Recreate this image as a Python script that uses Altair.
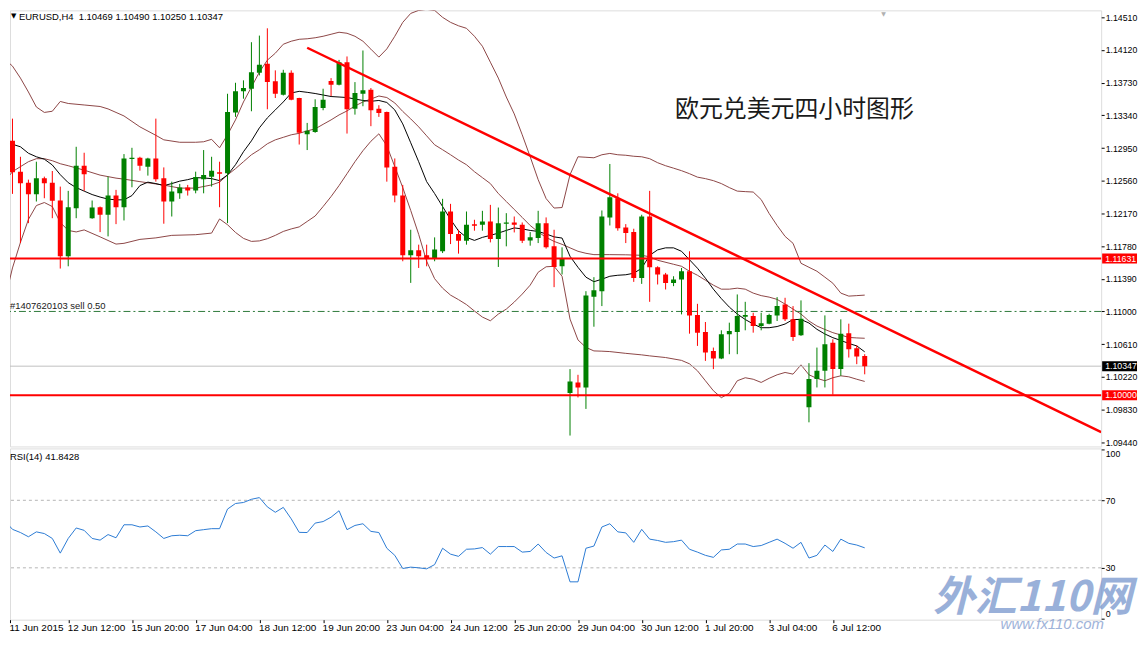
import altair as alt
import pandas as pd

# ------------------------------------------------------------------ data
opens = [
    1.12846, 1.13036, 1.12668, 1.12537, 1.12398, 1.12589, 1.12537, 1.12324, 1.11658, 1.12232,
    1.12739, 1.12113, 1.12244, 1.12154, 1.12383, 1.12244, 1.12819, 1.12834, 1.12728, 1.12826,
    1.12589, 1.12312, 1.12410, 1.12478, 1.12442, 1.12577, 1.12609, 1.12660, 1.12648, 1.13373,
    1.13627, 1.13658, 1.13848, 1.13955, 1.13746, 1.13587, 1.13848, 1.13547, 1.13116, 1.13143,
    1.13429, 1.13749, 1.13705, 1.13975, 1.13420, 1.13598, 1.13646, 1.13420, 1.13381, 1.12728,
    1.12383, 1.11670, 1.11729, 1.11670, 1.11631, 1.11718, 1.12193, 1.11923, 1.11845, 1.12042,
    1.12035, 1.12074, 1.11864, 1.12047, 1.12062, 1.12035, 1.11848, 1.11876, 1.12054, 1.11777,
    1.11539, 1.10027, 1.10153, 1.10093, 1.11175, 1.11242, 1.12122, 1.12351, 1.12003, 1.11947,
    1.11400, 1.12133, 1.11527, 1.11441, 1.11341, 1.11381, 1.11480, 1.10957, 1.10755, 1.10529,
    1.10438, 1.10728, 1.10755, 1.10937, 1.10945, 1.10826, 1.10854, 1.10953, 1.11084, 1.10906,
    1.10716, 1.09856, 1.10193, 1.10292, 1.10628, 1.10312, 1.10740, 1.10561, 1.10469]
highs = [
    1.13167, 1.13301, 1.12846, 1.12573, 1.12787, 1.12609, 1.12676, 1.12490, 1.12439, 1.12965,
    1.12894, 1.12324, 1.12252, 1.12609, 1.12451, 1.12878, 1.12953, 1.12846, 1.12834, 1.13301,
    1.12719, 1.12549, 1.12522, 1.12510, 1.12668, 1.12926, 1.12846, 1.12787, 1.13598, 1.13729,
    1.13758, 1.14213, 1.14292, 1.14379, 1.13877, 1.13884, 1.13877, 1.13550, 1.13250, 1.13532,
    1.13658, 1.13785, 1.14002, 1.14043, 1.13737, 1.14114, 1.13666, 1.13461, 1.13385, 1.12826,
    1.12510, 1.11975, 1.11797, 1.11797, 1.11884, 1.12344, 1.12284, 1.11975, 1.12193, 1.12094,
    1.12201, 1.12272, 1.12240, 1.12173, 1.12133, 1.12062, 1.11947, 1.12201, 1.12122, 1.11975,
    1.11765, 1.10312, 1.10244, 1.11242, 1.11409, 1.12205, 1.12760, 1.12410, 1.12042, 1.11987,
    1.12154, 1.12439, 1.11539, 1.11460, 1.11420, 1.11519, 1.11718, 1.11091, 1.10874, 1.10569,
    1.10775, 1.10866, 1.11203, 1.11115, 1.10984, 1.10984, 1.10973, 1.11171, 1.11163, 1.11064,
    1.11132, 1.10383, 1.10569, 1.10953, 1.10668, 1.10906, 1.10854, 1.10597, 1.10490]
lows = [
    1.12811, 1.12403, 1.11816, 1.12054, 1.12312, 1.12351, 1.12113, 1.11512, 1.11539, 1.12113,
    1.12439, 1.12106, 1.11947, 1.11896, 1.12042, 1.12086, 1.12482, 1.12680, 1.12621, 1.12549,
    1.12047, 1.12133, 1.12344, 1.12383, 1.12410, 1.12410, 1.12490, 1.12244, 1.12054, 1.13322,
    1.13539, 1.13389, 1.13817, 1.13413, 1.13547, 1.13577, 1.13520, 1.12992, 1.12926, 1.13132,
    1.13401, 1.13571, 1.13698, 1.13123, 1.13349, 1.13449, 1.13211, 1.13322, 1.12549, 1.12303,
    1.11599, 1.11341, 1.11519, 1.11539, 1.11599, 1.11697, 1.11804, 1.11690, 1.11797, 1.11964,
    1.11964, 1.11824, 1.11531, 1.11777, 1.11943, 1.11816, 1.11785, 1.11816, 1.11750, 1.11290,
    1.11441, 1.09519, 1.09974, 1.09837, 1.10818, 1.11064, 1.12026, 1.11964, 1.11816, 1.11353,
    1.11329, 1.11115, 1.11322, 1.11262, 1.11302, 1.10965, 1.10735, 1.10589, 1.10410, 1.10312,
    1.10431, 1.10490, 1.10490, 1.10775, 1.10747, 1.10775, 1.10847, 1.10886, 1.10886, 1.10648,
    1.10708, 1.09677, 1.10093, 1.10093, 1.10006, 1.10232, 1.10450, 1.10371, 1.10250]
closes = [
    1.13143, 1.12660, 1.12529, 1.12398, 1.12589, 1.12529, 1.12320, 1.11658, 1.12244, 1.12739,
    1.12636, 1.12240, 1.12154, 1.12383, 1.12244, 1.12826, 1.12834, 1.12739, 1.12826, 1.12577,
    1.12312, 1.12430, 1.12478, 1.12442, 1.12605, 1.12629, 1.12680, 1.12644, 1.13381, 1.13627,
    1.13666, 1.13856, 1.13943, 1.13737, 1.13598, 1.13848, 1.13527, 1.13132, 1.13155, 1.13440,
    1.13527, 1.13705, 1.13975, 1.13413, 1.13607, 1.13639, 1.13401, 1.13369, 1.12719, 1.12383,
    1.11670, 1.11729, 1.11658, 1.11638, 1.11738, 1.12193, 1.11923, 1.11845, 1.12035, 1.12023,
    1.12074, 1.11864, 1.12054, 1.12062, 1.12035, 1.11845, 1.11887, 1.12054, 1.11765, 1.11531,
    1.11631, 1.10165, 1.10093, 1.11191, 1.11254, 1.12133, 1.12363, 1.11994, 1.11935, 1.11400,
    1.12133, 1.11527, 1.11441, 1.11341, 1.11381, 1.11480, 1.10953, 1.10747, 1.10509, 1.10438,
    1.10728, 1.10767, 1.10945, 1.10957, 1.10826, 1.10858, 1.10957, 1.11064, 1.10906, 1.10696,
    1.10913, 1.10193, 1.10292, 1.10609, 1.10312, 1.10735, 1.10550, 1.10462, 1.10347]

ma_values = [
    1.13004, 1.12995, 1.12965, 1.12888, 1.12846, 1.12817, 1.12748, 1.12632, 1.12537, 1.12478,
    1.12436, 1.12395, 1.12365, 1.12341, 1.12332, 1.12332, 1.12383, 1.12502, 1.12543, 1.12526,
    1.12502, 1.12526, 1.12555, 1.12573, 1.12597, 1.12593, 1.12585, 1.12561, 1.12629, 1.12751,
    1.12906, 1.13036, 1.13191, 1.13310, 1.13405, 1.13500, 1.13607, 1.13627, 1.13615, 1.13601,
    1.13583, 1.13565, 1.13559, 1.13553, 1.13535, 1.13518, 1.13508, 1.13518, 1.13494, 1.13405,
    1.13238, 1.13013, 1.12787, 1.12549, 1.12407, 1.12252, 1.12098, 1.11961, 1.11884, 1.11848,
    1.11884, 1.11908, 1.11935, 1.11967, 1.11997, 1.11985, 1.11967, 1.11955, 1.11925, 1.11890,
    1.11876, 1.11658, 1.11527, 1.11409, 1.11355, 1.11385, 1.11420, 1.11432, 1.11438, 1.11456,
    1.11516, 1.11670, 1.11735, 1.11759, 1.11759, 1.11718, 1.11617, 1.11516, 1.11397, 1.11266,
    1.11153, 1.11052, 1.10969, 1.10904, 1.10850, 1.10806, 1.10806, 1.10820, 1.10850, 1.10904,
    1.10904, 1.10862, 1.10787, 1.10731, 1.10687, 1.10654, 1.10618, 1.10589, 1.10518]

ub_idx = [0, 1, 2, 3, 4, 5, 6, 7, 8, 10, 12, 13, 14, 15, 17, 19, 20, 22, 24, 25, 26, 27, 28, 29,
          30, 31, 32, 33, 34, 35, 36, 37, 38, 39, 40, 41, 42, 43, 44, 45, 46, 47, 48, 49, 50, 51,
          52, 53, 54, 55, 56, 57, 58, 59, 60, 61, 62, 63, 64, 65, 66, 67, 68, 69, 70, 71, 72, 73,
          74, 75, 76, 77, 78, 79, 80, 81, 82, 83, 84, 85, 86, 87, 88, 89, 90, 91, 92, 93, 94, 95,
          96, 97, 98, 99, 100, 101, 102, 103, 104, 105, 106, 107, 108]
ub_val = [1.14014, 1.13928, 1.13785, 1.13619, 1.13440, 1.13375, 1.13389, 1.13506, 1.13482, 1.13464,
          1.13446, 1.13417, 1.13375, 1.13333, 1.13203, 1.13102, 1.13048, 1.13019, 1.13019, 1.13025,
          1.13054, 1.12953, 1.13108, 1.13286, 1.13500, 1.13678, 1.13856, 1.13999, 1.14082, 1.14189,
          1.14225, 1.14248, 1.14254, 1.14266, 1.14284, 1.14308, 1.14332, 1.14320, 1.14284, 1.14225,
          1.14130, 1.14035, 1.14133, 1.14284, 1.14450, 1.14557, 1.14593, 1.14605, 1.14593, 1.14510,
          1.14450, 1.14409, 1.14379, 1.14284, 1.14165, 1.13975, 1.13785, 1.13559, 1.13357, 1.13108,
          1.12846, 1.12573, 1.12347, 1.12234, 1.12240, 1.12632, 1.12846, 1.12840, 1.12834, 1.12870,
          1.12886, 1.12870, 1.12864, 1.12852, 1.12846, 1.12823, 1.12775, 1.12739, 1.12710, 1.12680,
          1.12644, 1.12603, 1.12585, 1.12561, 1.12526, 1.12478, 1.12436, 1.12430, 1.12425, 1.12335,
          1.12169, 1.12026, 1.11896, 1.11813, 1.11575, 1.11527, 1.11480, 1.11409, 1.11337, 1.11219,
          1.11183, 1.11189, 1.11195]

mb_idx = [0, 1, 2, 3, 4, 5, 6, 7, 8, 10, 12, 14, 15, 17, 20, 22, 24, 26, 27, 28, 29, 30, 31, 32,
          33, 34, 35, 36, 37, 38, 39, 40, 41, 42, 43, 44, 45, 46, 47, 48, 49, 50, 51, 52, 53, 54,
          55, 56, 57, 58, 59, 60, 61, 62, 63, 64, 65, 66, 67, 68, 69, 70, 71, 72, 73, 74, 76, 78,
          80, 81, 82, 84, 85, 86, 87, 88, 89, 90, 91, 92, 93, 94, 95, 96, 97, 98, 99, 100, 101,
          102, 103, 104, 105, 106, 107, 108]
mb_val = [1.12549, 1.12668, 1.12728, 1.12787, 1.12823, 1.12823, 1.12799, 1.12763, 1.12739, 1.12686,
          1.12627, 1.12591, 1.12579, 1.12549, 1.12508, 1.12472, 1.12472, 1.12510, 1.12543, 1.12629,
          1.12704, 1.12787, 1.12870, 1.12930, 1.13001, 1.13048, 1.13078, 1.13108, 1.13126, 1.13155,
          1.13179, 1.13233, 1.13286, 1.13345, 1.13393, 1.13452, 1.13500, 1.13535, 1.13571, 1.13553,
          1.13488, 1.13387, 1.13298, 1.13203, 1.13096, 1.12989, 1.12930, 1.12870, 1.12807, 1.12751,
          1.12668, 1.12597, 1.12526, 1.12407, 1.12312, 1.12217, 1.12122, 1.12026, 1.11949, 1.11884,
          1.11836, 1.11801, 1.11759, 1.11718, 1.11694, 1.11678, 1.11678, 1.11676, 1.11670, 1.11652,
          1.11611, 1.11563, 1.11539, 1.11480, 1.11432, 1.11373, 1.11314, 1.11266, 1.11266, 1.11278,
          1.11266, 1.11219, 1.11189, 1.11171, 1.11144, 1.11088, 1.11028, 1.10969, 1.10886, 1.10826,
          1.10785, 1.10747, 1.10719, 1.10690, 1.10684, 1.10680]

lb_idx = [0, 1, 2, 3, 4, 5, 6, 7, 8, 9, 10, 12, 14, 15, 17, 19, 21, 24, 26, 27, 28, 29, 30, 31,
          32, 33, 34, 35, 36, 37, 38, 39, 40, 41, 42, 43, 44, 45, 46, 47, 48, 49, 50, 51, 52, 53,
          54, 55, 56, 57, 58, 59, 60, 61, 62, 63, 64, 65, 66, 67, 68, 69, 70, 71, 72, 73, 74, 75,
          76, 78, 80, 81, 83, 85, 86, 87, 88, 89, 90, 91, 92, 93, 94, 95, 96, 97, 98, 99, 100,
          101, 102, 103, 104, 105, 106, 107, 108]
lb_val = [1.11123, 1.11519, 1.11824, 1.12098, 1.12264, 1.12300, 1.12252, 1.12062, 1.11967, 1.11949,
          1.11973, 1.11890, 1.11804, 1.11813, 1.11860, 1.11878, 1.11908, 1.11916, 1.11935, 1.12104,
          1.12035, 1.11943, 1.11872, 1.11836, 1.11842, 1.11868, 1.11908, 1.11955, 1.11985, 1.12009,
          1.12074, 1.12139, 1.12252, 1.12371, 1.12502, 1.12644, 1.12787, 1.12918, 1.13031, 1.13120,
          1.12977, 1.12728, 1.12478, 1.12205, 1.11920, 1.11599, 1.11391, 1.11278, 1.11195, 1.11141,
          1.11082, 1.11005, 1.10933, 1.10889, 1.10969, 1.11028, 1.11112, 1.11207, 1.11314, 1.11468,
          1.11533, 1.11539, 1.11420, 1.10909, 1.10660, 1.10571, 1.10529, 1.10526, 1.10521, 1.10500,
          1.10482, 1.10470, 1.10450, 1.10416, 1.10375, 1.10292, 1.10173, 1.10054, 1.09971, 1.10024,
          1.10173, 1.10209, 1.10191, 1.10153, 1.10202, 1.10244, 1.10272, 1.10252, 1.10363, 1.10244,
          1.10202, 1.10173, 1.10209, 1.10232, 1.10220, 1.10191, 1.10165]

rsi_values = [
    58.0, 52.8, 50.9, 48.4, 51.3, 50.3, 47.4, 38.7, 47.4, 53.6,
    52.2, 47.4, 46.4, 49.7, 47.8, 55.5, 55.5, 54.2, 54.8, 51.3,
    47.4, 49.0, 49.3, 49.0, 52.0, 52.6, 53.2, 53.2, 64.8, 68.1,
    68.7, 70.6, 71.6, 66.1, 62.9, 65.8, 59.0, 51.0, 50.9, 56.5,
    57.4, 60.0, 63.8, 52.6, 55.1, 56.1, 51.6, 50.9, 41.6, 37.4,
    29.6, 30.4, 30.0, 29.4, 31.9, 41.6, 38.1, 36.8, 41.0, 41.2,
    42.0, 38.1, 42.6, 42.6, 42.6, 39.3, 39.7, 44.1, 39.1, 35.8,
    37.1, 21.7, 21.7, 41.6, 42.9, 54.2, 56.1, 51.3, 50.7, 45.1,
    52.8, 47.0, 46.2, 45.1, 45.5, 46.4, 41.0, 39.3, 37.4, 36.2,
    40.6, 41.0, 44.1, 44.1, 42.6, 43.2, 45.1, 47.0, 44.5, 41.6,
    45.1, 35.8, 37.4, 43.5, 39.7, 47.0, 44.5, 43.5, 41.8428]

tick_bars = [0, 8, 16, 24, 32, 40, 48, 56, 64, 72, 80, 88, 96, 104]
tick_labels = ["11 Jun 2015", "12 Jun 12:00", "15 Jun 20:00", "17 Jun 04:00", "18 Jun 12:00",
               "19 Jun 20:00", "23 Jun 04:00", "24 Jun 12:00", "25 Jun 20:00", "29 Jun 04:00",
               "30 Jun 12:00", "1 Jul 20:00", "3 Jul 04:00", "6 Jul 12:00"]
price_ticks = [1.14510, 1.14120, 1.13730, 1.13340, 1.12950, 1.12560, 1.12170, 1.11780,
               1.11390, 1.11000, 1.10610, 1.10220, 1.09830, 1.09440]
rsi_ticks = [100, 70, 30, 0]
rsi_levels = [70, 30]

level_prices = [1.11631, 1.10000]
bid_price = 1.10347
order_price = 1.11000
trend_bars = [38, 137.6875]
trend_prices = [1.14147, 1.09561]

box_prices = [1.11631, 1.10347, 1.10000]
box_kinds = ["level", "bid", "level"]

title_text = "EURUSD,H4\u00a0 1.10469 1.10490 1.10250 1.10347"
rsi_text = "RSI(14) 41.8428"
order_text = "#1407620103 sell 0.50"
cn_text = "欧元兑美元四小时图形"
wm_text = "外汇110网"
wm_url = "www.fx110.com"

# ------------------------------------------------------------------ style
FONT = "Liberation Sans"
GREEN = "#008000"
RED = "#ff0000"
BAND = "#8c4646"
W = 1096
H_PRICE = 438
H_RSI = 172
AXIS_FS = 8.8
X_LO, X_HI = 0.6875, 137.6875

x_scale = alt.Scale(domain=[X_LO, X_HI], nice=False, zero=False)
p_scale = alt.Scale(domain=[1.09389, 1.14593], nice=False, zero=False)
r_scale = alt.Scale(domain=[-0.72, 100.72], nice=False, zero=False)
dir_scale = alt.Scale(domain=["up", "down"], range=[GREEN, RED])

candles = pd.DataFrame({"i": list(range(len(opens))), "o": opens, "h": highs,
                        "l": lows, "c": closes})
candles["dir"] = ["up" if c >= o else "down" for o, c in zip(opens, closes)]

price_axis = alt.Axis(orient="right", values=price_ticks, format=".5f", tickSize=3,
                      labelPadding=1, domain=False, grid=False, title=None,
                      labelOverlap=False, labelBaseline="middle", labelFlush=False,
                      labelFont=FONT, labelFontSize=AXIS_FS, labelColor="black",
                      tickColor="black")


def X(field="i"):
    return alt.X(f"{field}:Q", scale=x_scale, axis=None)


def PY(field):
    return alt.Y(f"{field}:Q", scale=p_scale, axis=price_axis)


def txt(text, x, y, **kw):
    return alt.Chart(pd.DataFrame({"t": [text]})).mark_text(**kw).encode(
        x=alt.value(x), y=alt.value(y), text="t:N")


wicks = alt.Chart(candles).mark_rule(strokeWidth=1, clip=True).encode(
    x=X(), y=PY("l"), y2="h:Q",
    color=alt.Color("dir:N", scale=dir_scale, legend=None))
bodies = alt.Chart(candles).mark_rule(strokeWidth=5, clip=True).encode(
    x=X(), y=PY("o"), y2="c:Q",
    color=alt.Color("dir:N", scale=dir_scale, legend=None))


def line_layer(idx, vals, color):
    return alt.Chart(pd.DataFrame({"i": idx, "v": vals})).mark_line(
        color=color, strokeWidth=1, clip=True).encode(x=X(), y=PY("v"))


upper = line_layer(ub_idx, ub_val, BAND)
middle = line_layer(mb_idx, mb_val, BAND)
lower = line_layer(lb_idx, lb_val, BAND)
ma = line_layer(list(range(len(ma_values))), ma_values, "#000000")

bid_line = alt.Chart(pd.DataFrame({"p": [bid_price]})).mark_rule(
    color="#c0c0c0", strokeWidth=1).encode(y=PY("p"))
order_line = alt.Chart(pd.DataFrame({"p": [order_price]})).mark_rule(
    color="#2d7a3a", strokeWidth=1, strokeDash=[7, 3, 2, 3]).encode(y=PY("p"))
red_lines = alt.Chart(pd.DataFrame({"p": level_prices})).mark_rule(
    color=RED, strokeWidth=2).encode(y=PY("p"))
trend = alt.Chart(pd.DataFrame({"i": trend_bars, "p": trend_prices})).mark_line(
    color=RED, strokeWidth=2.5, clip=True).encode(x=X(), y=PY("p"))

boxes_df = pd.DataFrame({"p": box_prices, "kind": box_kinds,
                         "t": [f"{p:.5f}" for p in box_prices]})
# price label boxes at the right edge (thick horizontal rule with square caps)
boxes = alt.Chart(boxes_df).mark_rule(strokeWidth=10, strokeCap="square").encode(
    x=alt.value(W + 6), x2=alt.value(W + 31), y=PY("p"),
    color=alt.condition("datum.kind == 'bid'", alt.value("#000000"), alt.value(RED)))
box_text = alt.Chart(boxes_df).mark_text(
    align="left", baseline="middle", color="white", font=FONT, fontSize=AXIS_FS).encode(
    x=alt.value(W + 4), y=PY("p"), text="t:N")

price_panel = alt.layer(
    upper, middle, lower, ma, bid_line, order_line,
    wicks, bodies, red_lines, trend, boxes, box_text,
    txt("▼", 1, 2, font="DejaVu Sans", fontSize=7, align="left", baseline="top", color="black"),
    txt(title_text, 9, 1.5, font=FONT, fontSize=9.5, align="left", baseline="top", color="black"),
    txt("▼", 875, 1, font="DejaVu Sans", fontSize=6, align="left", baseline="top", color="#b0b0b0"),
    txt(order_text, 0, 297, font=FONT, fontSize=9.5, align="left", baseline="middle", color="#202020"),
    txt(cn_text, 668, 100, font="Noto Sans CJK SC", fontSize=24, align="left",
        baseline="middle", color="#1a1a1a"),
).properties(width=W, height=H_PRICE)

# ------------------------------------------------------------------ RSI
label_expr = "[" + ",".join(f"'{s}'" for s in tick_labels) + "][round(datum.value / 8)]"
axis_ticks = [max(b, X_LO) for b in tick_bars]
x_axis = alt.Axis(orient="bottom", values=axis_ticks, labelExpr=label_expr, tickSize=3,
                  labelPadding=0, labelAlign="left", labelBaseline="top", labelOffset=-1,
                  domain=False, grid=False, title=None, labelOverlap=False, labelFlush=False,
                  labelFont=FONT, labelFontSize=10, labelColor="black", tickColor="black")
rsi_axis = alt.Axis(orient="right", values=rsi_ticks, tickSize=3, labelPadding=1,
                    labelFlush=3, domain=False, grid=False, title=None, labelOverlap=False,
                    labelFont=FONT, labelFontSize=AXIS_FS, labelColor="black", tickColor="black")

rsi_df = pd.DataFrame({"i": list(range(len(rsi_values))), "r": rsi_values})
rsi_line = alt.Chart(rsi_df).mark_line(color="#2b7bd4", strokeWidth=1, clip=True).encode(
    x=alt.X("i:Q", scale=x_scale, axis=x_axis),
    y=alt.Y("r:Q", scale=r_scale, axis=rsi_axis))
rsi_lv = alt.Chart(pd.DataFrame({"lv": rsi_levels})).mark_rule(
    color="#b4b4b4", strokeWidth=1, strokeDash=[3, 3]).encode(
    y=alt.Y("lv:Q", scale=r_scale, axis=rsi_axis))

rsi_panel = alt.layer(
    rsi_lv, rsi_line,
    txt(rsi_text, 0, 9, font=FONT, fontSize=9.5, align="left", baseline="middle", color="black"),
    txt(wm_text, 927, 150, font="Noto Sans CJK SC", fontSize=42, fontWeight="bold",
        fontStyle="italic", align="left", baseline="middle", color="#7896cd", opacity=0.75),
    txt(wm_url, 995, 176, font=FONT, fontSize=15, fontStyle="italic", align="left",
        baseline="middle", color="#8ea6d3", opacity=0.85),
).properties(width=W, height=H_RSI)

chart = alt.vconcat(price_panel, rsi_panel, spacing=2, bounds="flush").resolve_scale(
    x="independent", y="independent", color="independent"
).properties(
    padding=0
).configure_view(stroke="#000000", strokeWidth=1).configure(background="white")

chart.save("out.html", embed_options={"renderer": "svg", "actions": False})
